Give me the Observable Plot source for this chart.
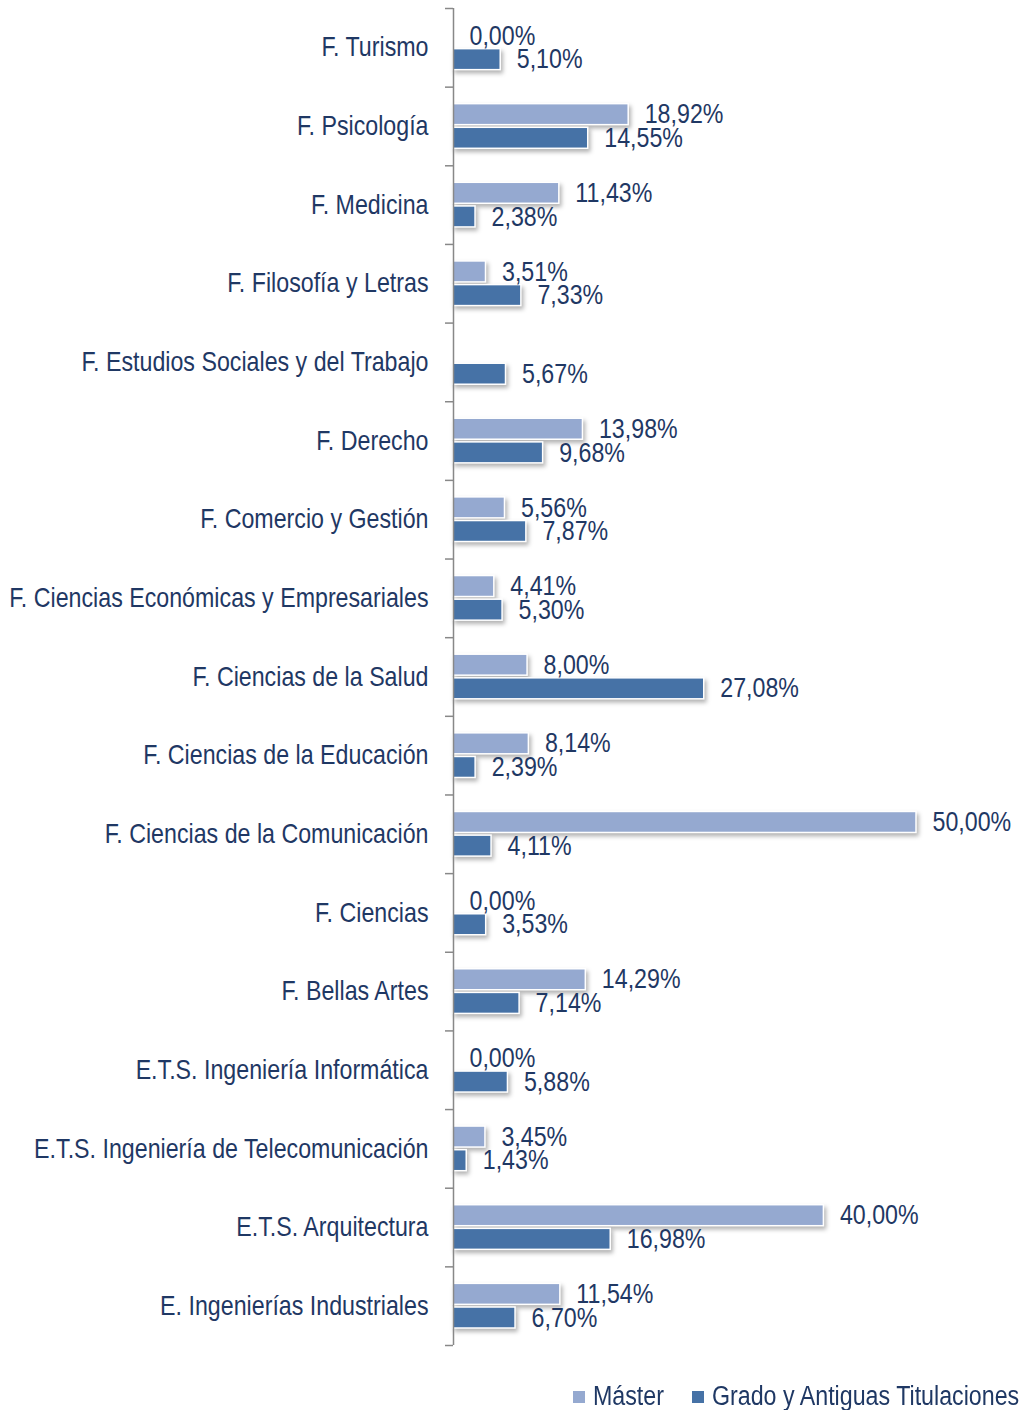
<!DOCTYPE html>
<html>
<head>
<meta charset="utf-8">
<script src="https://cdn.jsdelivr.net/npm/d3@7"></script>
<script src="https://cdn.jsdelivr.net/npm/@observablehq/plot@0.6"></script>
<style>
  body { margin: 0; background: white; }
  #chart { position: relative; width: 1021px; }
  .legend { position: relative; height: 45px; width: 1021px;
    font-family: "Liberation Sans", Arial, sans-serif; font-size: 27px; color: #1F3864; }
  .legend .sw { position: absolute; top: 26px; width: 12px; height: 12px; }
  .legend .lbl { position: absolute; top: 18px; line-height: 27px; white-space: nowrap;
    transform: scaleX(0.86); transform-origin: left center; }
</style>
</head>
<body>
<div id="chart"></div>
<script>
const categories = [
  "F. Turismo",
  "F. Psicología",
  "F. Medicina",
  "F. Filosofía y Letras",
  "F. Estudios Sociales y del Trabajo",
  "F. Derecho",
  "F. Comercio y Gestión",
  "F. Ciencias Económicas y Empresariales",
  "F. Ciencias de la Salud",
  "F. Ciencias de la Educación",
  "F. Ciencias de la Comunicación",
  "F. Ciencias",
  "F. Bellas Artes",
  "E.T.S. Ingeniería Informática",
  "E.T.S. Ingeniería de Telecomunicación",
  "E.T.S. Arquitectura",
  "E. Ingenierías Industriales"
];
const master = [0.00, 18.92, 11.43, 3.51, null, 13.98, 5.56, 4.41, 8.00, 8.14, 50.00, 0.00, 14.29, 0.00, 3.45, 40.00, 11.54];
const grado  = [5.10, 14.55, 2.38, 7.33, 5.67, 9.68, 7.87, 5.30, 27.08, 2.39, 4.11, 3.53, 7.14, 5.88, 1.43, 16.98, 6.70];
const seriesNames = ["Máster", "Grado y Antiguas Titulaciones"];
const colors = ["#95A9D0", "#4672A6"];

const masterData = categories.map((c, i) => ({cat: c, v: master[i]})).filter(d => d.v != null);
const gradoData = categories.map((c, i) => ({cat: c, v: grado[i]})).filter(d => d.v != null);

const W = 1021, H = 1365, mTop = 8, mBottom = 20, mLeft = 453, mRight = 105;
const bw = (H - mTop - mBottom) / categories.length;
const barH = 21, outer = 17;
const fmt = v => v.toFixed(2).replace(".", ",") + "%";
const xPerPx = 50 / (W - mLeft - mRight);
const font = '"Liberation Sans", Arial, sans-serif';
const textColor = "#1F3864";
const squeeze = 0.86;

const plot = Plot.plot({
  width: W, height: H,
  marginTop: mTop, marginBottom: mBottom, marginLeft: mLeft, marginRight: mRight,
  style: {fontFamily: font, fontSize: "27px", color: textColor, background: "white"},
  x: {domain: [0, 50], axis: null},
  y: {domain: categories, padding: 0, round: false, tickSize: 0, tickPadding: 25, label: null},
  marks: [
    Plot.barX(masterData, {x: "v", y: "cat", fill: colors[0], stroke: "white", strokeWidth: 1.5,
      insetTop: outer, insetBottom: bw - outer - barH}),
    Plot.barX(gradoData, {x: "v", y: "cat", fill: colors[1], stroke: "white", strokeWidth: 1.5,
      insetTop: bw - outer - barH, insetBottom: outer}),
    Plot.ruleX([0], {stroke: "#888", strokeWidth: 1.5}),
    Plot.ruleY(categories, {y: d => d, dy: -bw / 2, x1: -8 * xPerPx, x2: 0, stroke: "#888", strokeWidth: 1.5}),
    Plot.ruleY([categories[categories.length - 1]], {y: d => d, dy: bw / 2, x1: -8 * xPerPx, x2: 0, stroke: "#888", strokeWidth: 1.5}),
    Plot.text(masterData, {x: "v", y: "cat", text: d => fmt(d.v), dx: 16, dy: outer + barH / 2 - bw / 2,
      textAnchor: "start", fill: textColor, fontSize: 27}),
    Plot.text(gradoData, {x: "v", y: "cat", text: d => fmt(d.v), dx: 16, dy: bw / 2 - outer - barH / 2,
      textAnchor: "start", fill: textColor, fontSize: 27})
  ]
});

// narrow the text horizontally (condensed look), keeping each anchor point fixed
d3.select(plot).selectAll("text").each(function() {
  const ax = parseFloat(this.getAttribute("x")) || 0;
  const t = this.getAttribute("transform") || "";
  this.setAttribute("transform", `${t} translate(${ax},0) scale(${squeeze},1) translate(${-ax},0)`);
});
d3.select(plot).selectAll('g[aria-label="bar"]').style("filter", "drop-shadow(2px 3px 2px rgba(0,0,0,0.3))");
document.getElementById("chart").appendChild(plot);

const legend = d3.select("#chart").append("div").attr("class", "legend");
const legendPos = [[573, 593], [692, 712]];
seriesNames.forEach((name, i) => {
  legend.append("span").attr("class", "sw").style("background", colors[i]).style("left", legendPos[i][0] + "px");
  legend.append("span").attr("class", "lbl").style("left", legendPos[i][1] + "px").text(name);
});
</script>
</body>
</html>
